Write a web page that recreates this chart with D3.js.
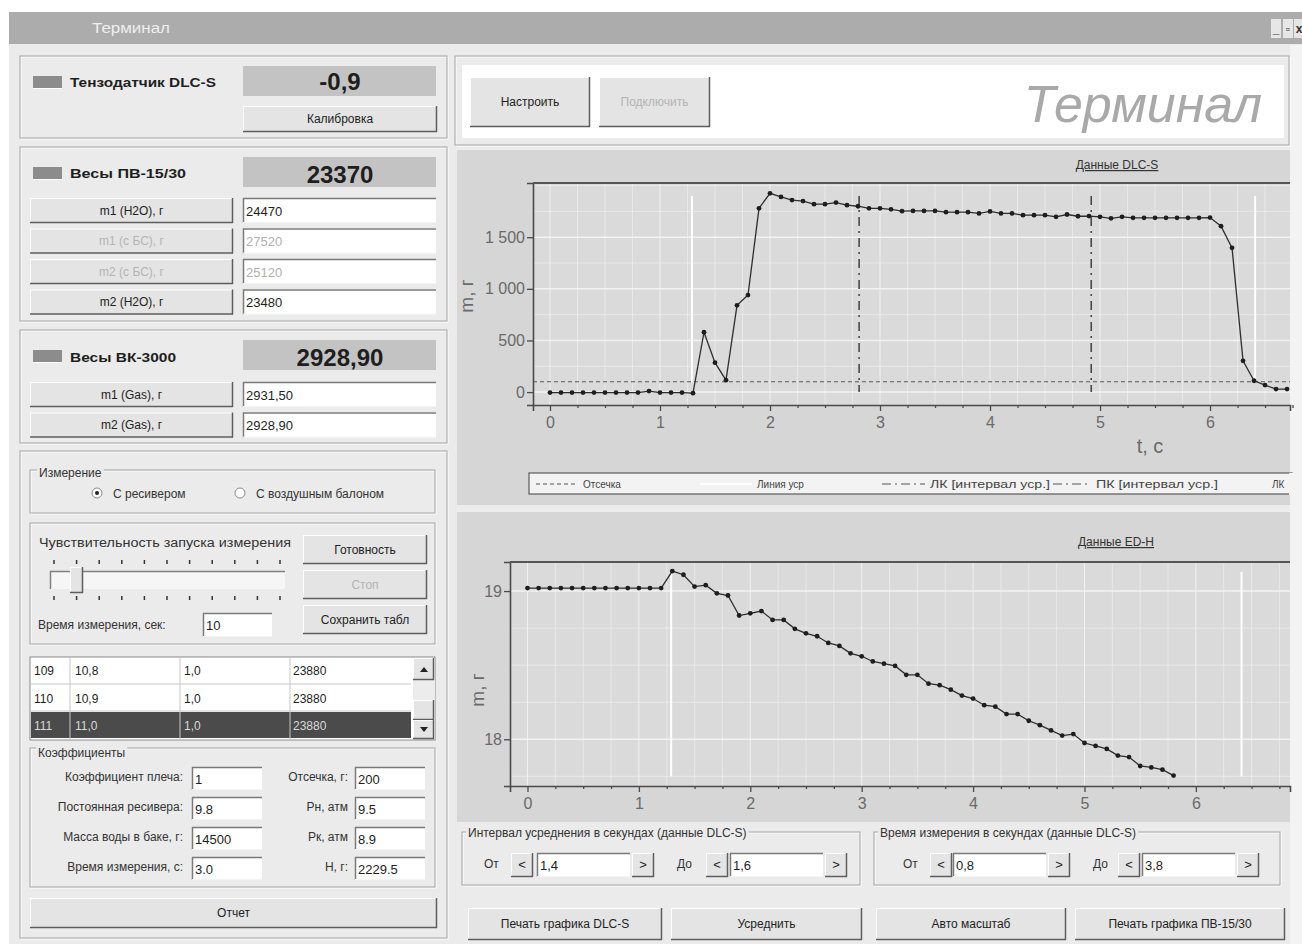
<!DOCTYPE html>
<html><head><meta charset="utf-8">
<script src="https://cdn.jsdelivr.net/npm/d3@7"></script>
<style>
body{margin:0;background:#fff;}
svg{display:block;font-family:"Liberation Sans",Arial,sans-serif;}
</style>
</head><body>
<svg id="c" width="1302" height="944"></svg>
<script>
// ---------------- DATA ----------------
const dlcTime = [0,0.1,0.2,0.3,0.4,0.5,0.6,0.7,0.8,0.9,1,1.1,1.2,1.3,1.4,1.5,1.6,1.7,1.8,1.9,2,2.1,2.2,2.3,2.4,2.5,2.6,2.7,2.8,2.9,3,3.1,3.2,3.3,3.4,3.5,3.6,3.7,3.8,3.9,4,4.1,4.2,4.3,4.4,4.5,4.6,4.7,4.8,4.9,5,5.1,5.2,5.3,5.4,5.5,5.6,5.7,5.8,5.9,6,6.1,6.2,6.3,6.4,6.5,6.6,6.7];
const dlcMass = [-5,-5,-5,-5,-5,-5,-5,-5,-5,10,-5,-5,-5,-10,580,285,115,840,940,1780,1925,1890,1860,1850,1820,1820,1835,1810,1800,1780,1780,1770,1752,1755,1755,1755,1742,1742,1742,1730,1750,1730,1730,1713,1713,1713,1697,1720,1703,1705,1697,1683,1697,1688,1688,1688,1688,1688,1688,1688,1690,1607,1397,303,110,68,29,29];
const edTime = [0,0.1,0.2,0.3,0.4,0.5,0.6,0.7,0.8,0.9,1,1.1,1.2,1.3,1.4,1.5,1.6,1.7,1.8,1.9,2,2.1,2.2,2.3,2.4,2.5,2.6,2.7,2.8,2.9,3,3.1,3.2,3.3,3.4,3.5,3.6,3.7,3.8,3.9,4,4.1,4.2,4.3,4.4,4.5,4.6,4.7,4.8,4.9,5,5.1,5.2,5.3,5.4,5.5,5.6,5.7,5.8];
const edMass = [19.02,19.02,19.02,19.02,19.02,19.02,19.02,19.02,19.02,19.02,19.02,19.02,19.02,19.135,19.11,19.03,19.04,18.985,18.97,18.835,18.85,18.865,18.805,18.805,18.745,18.715,18.695,18.65,18.63,18.58,18.56,18.525,18.51,18.495,18.435,18.435,18.375,18.365,18.335,18.295,18.275,18.23,18.22,18.17,18.17,18.125,18.095,18.06,18.025,18.035,17.975,17.955,17.935,17.89,17.88,17.82,17.81,17.795,17.755];
const xTickValues = [0,1,2,3,4,5,6];
const dlcYTicks = [0,500,1000,1500];
const edYTicks = [18,19];
const dlcCutoff = 100;               // Отсечка
const dlcIntervalLines = [2.81, 4.92]; // ЛК / ПК
const avgLineTimes = [1.29, 6.41];   // Линия уср
const dlcAvgRange = [95, 1900];
const edAvgRange = [17.75, 19.13];
const legendLabels = ["Отсечка","Линия уср","ЛК [интервал уср.]","ПК [интервал уср.]","ЛК"];
const tableRows = [["109","10,8","1,0","23880"],["110","10,9","1,0","23880"],["111","11,0","1,0","23880"]];

// ---------------- HELPERS ----------------
const svg = d3.select('#c');
function R(x,y,w,h,fill,stroke,sw){return svg.append('rect').attr('x',x).attr('y',y).attr('width',w).attr('height',h).attr('fill',fill||'none').attr('stroke',stroke||'none').attr('stroke-width',sw||1);}
function L(x1,y1,x2,y2,c,w){return svg.append('line').attr('x1',x1).attr('y1',y1).attr('x2',x2).attr('y2',y2).attr('stroke',c).attr('stroke-width',w||1);}
function T(x,y,s,o){o=o||{};const t=svg.append('text').attr('x',x).attr('y',y).text(s)
  .attr('font-size',o.size||12).attr('fill',o.fill||'#1e1e1e').attr('text-anchor',o.anchor||'start');
  if(o.bold)t.attr('font-weight','bold'); if(o.italic)t.attr('font-style','italic');
  if(o.deco)t.attr('text-decoration',o.deco);
  if(o.len)t.attr('textLength',o.len).attr('lengthAdjust','spacingAndGlyphs');
  return t;}
function raised(x,y,w,h,fill){R(x,y,w,h,fill||'#e5e5e5');L(x,y+0.5,x+w,y+0.5,'#fff');L(x+0.5,y,x+0.5,y+h,'#fff');L(x,y+h-0.5,x+w,y+h-0.5,'#5e5e5e',1.5);L(x+w-0.5,y,x+w-0.5,y+h,'#5e5e5e',1.5);}
function button(x,y,w,h,label,dis,size){raised(x,y,w,h,'#e4e4e4');T(x+w/2,y+h/2+4,label,{anchor:'middle',fill:dis?'#b4b4b4':'#222',size:size||12});}
function field(x,y,w,h,val,dis){R(x,y,w,h,'#fff');L(x,y+0.5,x+w,y+0.5,'#7a7a7a',1.5);L(x+0.5,y,x+0.5,y+h,'#7a7a7a',1.5);L(x,y+h-0.5,x+w,y+h-0.5,'#f4f4f4');T(x+3,y+h/2+5,val,{fill:dis?'#b0b0b0':'#1e1e1e',size:13});}
function etched(x,y,w,h){R(x+1,y+1,w,h,null,'#ffffff');R(x,y,w,h,null,'#a4a4a4');}
function groupTitle(x,y,s,bg){const t=T(x,y,s,{size:12,fill:'#333'});const b=t.node().getBBox();
  svg.insert('rect',()=>t.node()).attr('x',b.x-2).attr('y',b.y).attr('width',b.width+4).attr('height',b.height).attr('fill',bg||'#ebebeb');}
function indicator(x,y){R(x,y,29,12,'#8c8c8c');L(x,y+12.5,x+29,y+12.5,'#fff');}

// ---------------- WINDOW ----------------
R(0,0,1302,944,'#ffffff');
R(9,12,1293,932,'#ebebeb');
R(9,12,1293,32,'#acacac');
T(92,33,'Терминал',{size:14,fill:'#eeeeee',len:78});
[[1271,'_'],[1283,'▫'],[1294,'x']].forEach(d=>{R(d[0],19,10,19,'#e6e6e6');T(d[0]+5,33,d[1],{anchor:'middle',size:12,bold:true,fill:'#333'});});
R(1290,45,12,899,'#f3f3f3');

// ---------------- LEFT PANEL ----------------
etched(20,56,427,82);
indicator(33,76);
T(70,87,'Тензодатчик DLC-S',{size:13,bold:true,len:146});
R(243,66,193,30,'#c3c3c3');
T(340,90,'-0,9',{size:24,bold:true,anchor:'middle'});
button(243,106,194,26,'Калибровка');

etched(20,147,427,174);
indicator(33,167);
T(70,178,'Весы ПВ-15/30',{size:13,bold:true,len:116});
R(243,157,193,30,'#c3c3c3');
T(340,183,'23370',{size:24,bold:true,anchor:'middle'});
const pvRows=[['m1 (H2O), г','24470',false],['m1 (с БС), г','27520',true],['m2 (с БС), г','25120',true],['m2 (H2O), г','23480',false]];
pvRows.forEach((r,i)=>{const y=198+i*30.5;button(30,y,203,25,r[0],r[2]);field(243,y,193,25,r[1],r[2]);});

etched(20,330,427,113);
indicator(33,350);
T(70,362,'Весы ВК-3000',{size:13,bold:true,len:106});
R(243,340,193,30,'#c3c3c3');
T(340,366,'2928,90',{size:24,bold:true,anchor:'middle'});
[['m1 (Gas), г','2931,50'],['m2 (Gas), г','2928,90']].forEach((r,i)=>{const y=382+i*30.5;button(30,y,203,25,r[0]);field(243,y,193,25,r[1]);});

etched(20,451,427,487);
// Измерение
etched(30,470,405,43);
groupTitle(39,477,'Измерение');
svg.append('circle').attr('cx',97).attr('cy',493).attr('r',5).attr('fill','#fff').attr('stroke','#8a8a8a');
svg.append('circle').attr('cx',97).attr('cy',493).attr('r',2).attr('fill','#222');
T(113,498,'С ресивером',{size:12,fill:'#333'});
svg.append('circle').attr('cx',240).attr('cy',493).attr('r',5).attr('fill','#fff').attr('stroke','#8a8a8a');
T(256,498,'С воздушным балоном',{size:12,fill:'#333'});
// Чувствительность
etched(30,523,405,121);
T(39,547,'Чувствительность запуска измерения',{size:12,fill:'#333',len:252});
R(50,571,235,18,'#f6f6f6');L(50,571.5,285,571.5,'#808080',1.5);L(50.5,571,50.5,589,'#808080',1.5);
d3.range(11).forEach(i=>{const x=54+i*22.6;L(x,560,x,564,'#333',1.5);L(x,596,x,600,'#333',1.5);});
raised(70,567,13,26,'#e4e4e4');
button(303,535,124,29,'Готовность');
button(303,570,124,29,'Стоп',true);
button(303,605,124,29,'Сохранить табл');
T(38,629,'Время измерения, сек:',{size:12,fill:'#333'});
field(203,613,69,24,'10');
// table
R(30,657,405,83,'#ffffff','#8a8a8a');
R(31,712,380,26,'#4b4b4b');
[684,711].forEach(y=>L(31,y,411,y,'#c8c8c8'));
[70,180,290].forEach(x=>L(x,658,x,739,'#c8c8c8'));
const colX=[34,75,184,293];
tableRows.forEach((r,i)=>{const y=675+i*27.5;r.forEach((v,j)=>T(colX[j],y,v,{size:12,fill:i===2?'#d8d8d8':'#1e1e1e'}));});
R(413,658,22,81,'#ececec');
raised(413,658,21,22,'#e4e4e4');raised(413,700,21,20,'#e4e4e4');raised(413,720,21,19,'#e4e4e4');
svg.append('path').attr('d','M420,672 L424,667 L428,672 Z').attr('fill','#222');
svg.append('path').attr('d','M420,727 L424,732 L428,727 Z').attr('fill','#222');
// Коэффициенты
etched(30,748,405,139);
groupTitle(38,757,'Коэффициенты');
const coefL=[['Коэффициент плеча:','1'],['Постоянная ресивера:','9.8'],['Масса воды в баке, г:','14500'],['Время измерения, с:','3.0']];
const coefR=[['Отсечка, г:','200'],['Рн, атм','9.5'],['Рк, атм','8.9'],['Н, г:','2229.5']];
coefL.forEach((r,i)=>{const y=767+i*30;T(183,y+14,r[0],{size:12,anchor:'end',fill:'#333'});field(192,y,70,23,r[1]);});
coefR.forEach((r,i)=>{const y=767+i*30;T(348,y+14,r[0],{size:12,anchor:'end',fill:'#333'});field(355,y,70,23,r[1]);});
button(30,898,407,30,'Отчет');

// ---------------- RIGHT TOP HEADER ----------------
etched(455,56,834,89);
R(462,65,822,73,'#ffffff');
button(470,77,120,50,'Настроить');
button(599,77,111,50,'Подключить',true);
T(1262,122,'Терминал',{size:52,italic:true,anchor:'end',fill:'#a9a9a9'});

// ---------------- CHARTS ----------------
function chart(cfg){
  R(cfg.panel[0],cfg.panel[1],cfg.panel[2],cfg.panel[3],'#d6d6d6');
  const x=d3.scaleLinear().domain(cfg.xDomain).range([cfg.left,cfg.right]);
  const y=d3.scaleLinear().domain(cfg.yDomain).range([cfg.bottom,cfg.top]);
  const g=svg.append('g');
  g.append('rect').attr('x',cfg.left).attr('y',cfg.top).attr('width',cfg.right-cfg.left).attr('height',cfg.bottom-cfg.top).attr('fill','#dadada');
  // grid
  g.selectAll('.vg').data(cfg.xMinor).join('line').attr('x1',d=>x(d)).attr('x2',d=>x(d)).attr('y1',cfg.top).attr('y2',cfg.bottom)
    .attr('stroke','#f4f4f4').attr('stroke-width',1).attr('opacity',d=>Number.isInteger(d)?0.9:0.55);
  g.selectAll('.hg').data(cfg.yMinor).join('line').attr('y1',d=>y(d)).attr('y2',d=>y(d)).attr('x1',cfg.left).attr('x2',cfg.right)
    .attr('stroke','#f4f4f4').attr('stroke-width',d=>cfg.yTicks.includes(d)?1.5:1).attr('opacity',d=>cfg.yTicks.includes(d)?0.95:0.55);
  // avg (white) lines
  g.selectAll('.avg').data(avgLineTimes).join('line').attr('x1',d=>x(d)).attr('x2',d=>x(d))
    .attr('y1',y(cfg.avgRange[1])).attr('y2',y(cfg.avgRange[0])).attr('stroke','#ffffff').attr('stroke-width',2);
  if(cfg.extra) cfg.extra(g,x,y);
  // axes
  const ax=d3.axisBottom(x).tickValues(xTickValues).tickSize(6).tickPadding(6).tickFormat(d3.format('d'));
  const axMinor=d3.axisBottom(x).tickValues(cfg.xMinor.filter(d=>!Number.isInteger(d))).tickSize(3).tickFormat('');
  g.append('g').attr('transform',`translate(0,${cfg.bottom})`).call(ax);
  g.append('g').attr('transform',`translate(0,${cfg.bottom})`).call(axMinor).call(s=>s.select('.domain').remove());
  const ay=d3.axisLeft(y).tickValues(cfg.yTicks).tickSize(6).tickPadding(2).tickFormat(cfg.yFmt);
  g.append('g').attr('transform',`translate(${cfg.left},0)`).call(ay);
  g.selectAll('.domain').attr('stroke','#4a4a4a').attr('stroke-width',1.6);
  g.selectAll('.tick line').attr('stroke','#4a4a4a').attr('stroke-width',1.3);
  g.selectAll('.tick text').attr('font-size',16).attr('fill','#6a6a6a').attr('font-family','"Liberation Sans",Arial,sans-serif');
  g.append('line').attr('x1',cfg.left).attr('x2',cfg.right).attr('y1',cfg.top).attr('y2',cfg.top).attr('stroke','#555').attr('stroke-width',2.2);
  // series
  const line=d3.line().x(d=>x(d[0])).y(d=>y(d[1]));
  const pts=cfg.t.map((t,i)=>[t,cfg.m[i]]);
  g.append('path').attr('d',line(pts)).attr('fill','none').attr('stroke','#2e2e2e').attr('stroke-width',1.3);
  g.selectAll('.pt').data(pts).join('circle').attr('cx',d=>x(d[0])).attr('cy',d=>y(d[1])).attr('r',2.4).attr('fill','#1e1e1e');
  // titles
  T(cfg.titleX,cfg.titleY,cfg.title,{size:12,anchor:'middle',fill:'#333',deco:'underline'});
  T(0,0,'m, г',{size:19,anchor:'middle',fill:'#6a6a6a'}).attr('transform',`translate(${cfg.ylabX},${cfg.ylabY}) rotate(-90)`);
  return {x,y};
}

chart({
  panel:[457,150,833,355], left:533, right:1290, top:183, bottom:405,
  xDomain:[-0.1545,6.727], yDomain:[-125,2025],
  xMinor:d3.range(0,6.76,0.25), yMinor:d3.range(0,2001,250), yTicks:dlcYTicks,
  yFmt:d=>d>=1000?d3.format(',')(d).replace(',',' '):String(d),
  avgRange:dlcAvgRange, t:dlcTime, m:dlcMass,
  title:'Данные DLC-S', titleX:1117, titleY:169, ylabX:473, ylabY:296,
  extra:(g,x,y)=>{
    g.append('line').attr('x1',x.range()[0]).attr('x2',x.range()[1]).attr('y1',y(dlcCutoff)).attr('y2',y(dlcCutoff))
      .attr('stroke','#5a5a5a').attr('stroke-width',1.1).attr('stroke-dasharray','4,3');
    g.selectAll('.iv').data(dlcIntervalLines).join('line').attr('x1',d=>x(d)).attr('x2',d=>x(d)).attr('y1',y(1900)).attr('y2',y(0))
      .attr('stroke','#4a4a4a').attr('stroke-width',1.6).attr('stroke-dasharray','9,5,2,5');
  }
});
T(1150,453,'t, c',{size:20,fill:'#6a6a6a',anchor:'middle'});
// legend
R(529,473,763,21,'#f3f3f3','#5a5a5a',1.2);
L(536,484,578,484,'#555',1).attr('stroke-dasharray','4,3');
T(583,488,legendLabels[0],{size:10,fill:'#444'});
L(700,484,752,484,'#ffffff',2);
T(757,488,legendLabels[1],{size:10,fill:'#444'});
L(882,484,925,484,'#555',1).attr('stroke-dasharray','9,4,2,4');
T(930,488,legendLabels[2],{size:10.5,fill:'#444',len:120});
L(1053,484,1091,484,'#555',1).attr('stroke-dasharray','9,4,2,4');
T(1096,488,legendLabels[3],{size:10.5,fill:'#444',len:122});
T(1272,488,legendLabels[4],{size:10,fill:'#444'});
R(1289,473,13,22,'#f3f3f3');

R(457,505,833,7,'#ececec');
chart({
  panel:[457,512,833,310], left:510, right:1290, top:562, bottom:786,
  xDomain:[-0.157,6.845], yDomain:[17.685,19.196],
  xMinor:d3.range(0,6.76,0.25), yMinor:[17.75,18,18.25,18.5,18.75,19], yTicks:edYTicks,
  yFmt:d3.format('d'),
  avgRange:edAvgRange, t:edTime, m:edMass,
  title:'Данные ED-H', titleX:1116, titleY:546, ylabX:484, ylabY:690
});

// ---------------- BOTTOM CONTROLS ----------------
function navGroup(x0,title,v1,v2,offs){
  etched(x0,832,offs.w,53);
  groupTitle(x0+6,837,title);
  T(x0+offs.ot,868,'От',{size:12,fill:'#333'});
  button(x0+offs.b1,853,22,24,'<',false,13);
  field(x0+offs.f1,853,offs.fw,24,v1);
  button(x0+offs.f1+offs.fw+2,853,22,24,'>',false,13);
  T(x0+offs.do,868,'До',{size:12,fill:'#333'});
  button(x0+offs.b2,853,22,24,'<',false,13);
  field(x0+offs.f2,853,offs.fw,24,v2);
  button(x0+offs.f2+offs.fw+2,853,22,24,'>',false,13);
}
navGroup(462,'Интервал усреднения в секундах (данные DLC-S)','1,4','1,6',{w:398,ot:22,b1:49,f1:75,fw:93,do:215,b2:244,f2:268});
navGroup(874,'Время измерения в секундах (данные DLC-S)','0,8','3,8',{w:406,ot:29,b1:56,f1:79,fw:93,do:219,b2:244,f2:268});
button(468,908,194,32,'Печать графика DLC-S');
button(671,908,191,32,'Усреднить');
button(876,908,190,32,'Авто масштаб');
button(1075,908,210,32,'Печать графика ПВ-15/30');
</script>
</body></html>
